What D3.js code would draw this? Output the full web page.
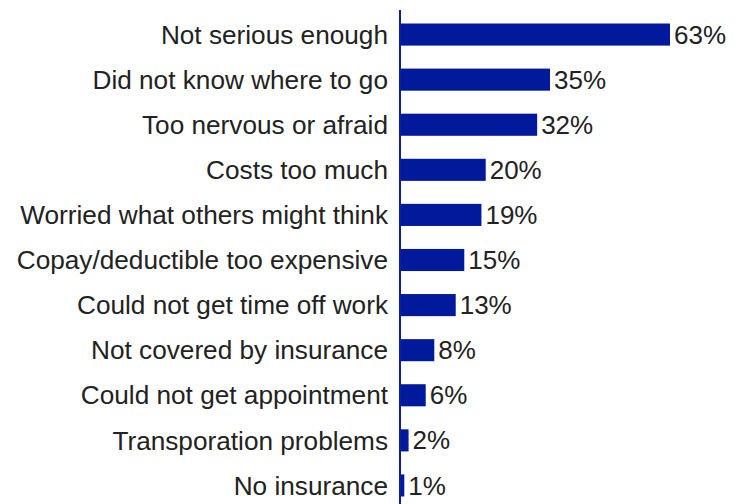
<!DOCTYPE html>
<html>
<head>
<meta charset="utf-8">
<script src="https://cdn.jsdelivr.net/npm/d3@7"></script>
<style>
  body { margin: 0; background: #fff; }
  text { font-family: "Liberation Sans", Arial, sans-serif; fill: #222; }
</style>
</head>
<body>
<div id="chart"></div>
<script>
var reasons = ["Not serious enough", "Did not know where to go", "Too nervous or afraid",
  "Costs too much", "Worried what others might think", "Copay/deductible too expensive",
  "Could not get time off work", "Not covered by insurance", "Could not get appointment",
  "Transporation problems", "No insurance"];
var percents = [63, 35, 32, 20, 19, 15, 13, 8, 6, 2, 1];

var width = 742, height = 504;
var axisX = 400;

var svg = d3.select("#chart")
  .append("svg")
    .attr("width", width)
    .attr("height", height);

var x = d3.scaleLinear()
  .domain([0, 63])
  .range([axisX, 670]);

var y = d3.scaleBand()
  .domain(reasons)
  .range([12, 508])
  .paddingInner(0.51)
  .paddingOuter(0.255);

var data = reasons.map(function(r, i) { return {reason: r, value: percents[i]}; });

svg.selectAll("rect.bar")
  .data(data)
  .enter().append("rect")
    .attr("class", "bar")
    .attr("x", x(0))
    .attr("y", function(d) { return y(d.reason); })
    .attr("width", function(d) { return x(d.value) - x(0); })
    .attr("height", y.bandwidth())
    .attr("fill", "#001a9b");

// category labels
svg.selectAll("text.cat")
  .data(data)
  .enter().append("text")
    .attr("class", "cat")
    .attr("x", axisX - 12)
    .attr("y", function(d) { return y(d.reason) + y.bandwidth() / 2; })
    .attr("dy", "0.35em")
    .attr("text-anchor", "end")
    .style("font-size", "26.2px")
    .text(function(d) { return d.reason; });

// value labels
svg.selectAll("text.val")
  .data(data)
  .enter().append("text")
    .attr("class", "val")
    .attr("x", function(d) { return x(d.value) + 4; })
    .attr("y", function(d) { return y(d.reason) + y.bandwidth() / 2; })
    .attr("dy", "0.35em")
    .style("font-size", "26px")
    .text(function(d) { return d.value + "%"; });

// axis line
svg.append("line")
  .attr("x1", axisX).attr("x2", axisX)
  .attr("y1", 10).attr("y2", height)
  .attr("stroke", "#0d1f9e")
  .attr("stroke-width", 2);
</script>
</body>
</html>
